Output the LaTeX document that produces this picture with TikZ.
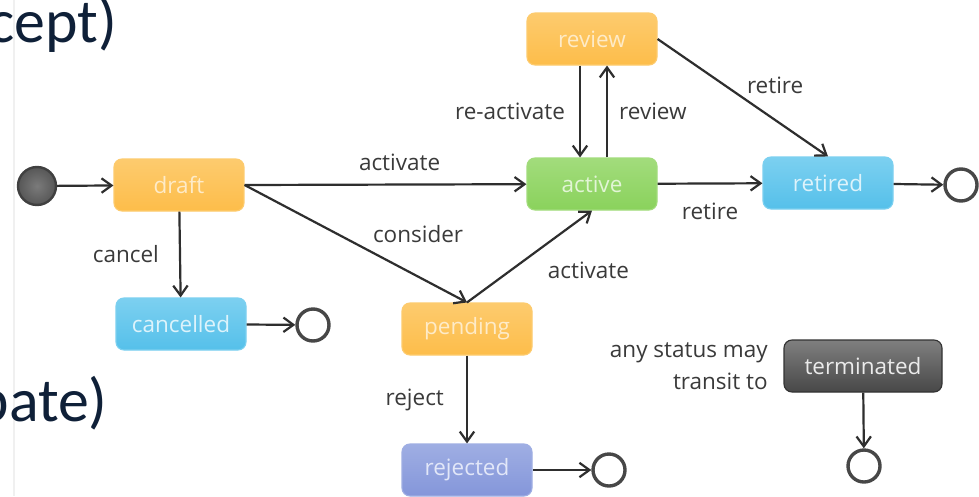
\documentclass[tikz,border=0pt]{standalone}
\usepackage{fontspec}
\setmainfont{Open Sans}
\newfontfamily\slidefont{Carlito}
\usetikzlibrary{positioning,arrows.meta}

\definecolor{slidenavy}{HTML}{0F2038}
\definecolor{labelgray}{HTML}{3A3A3A}
\definecolor{linegray}{HTML}{2E2E2E}
\definecolor{orangefill}{HTML}{FDBD4A}
\definecolor{orangetop}{HTML}{FDCB6E}
\definecolor{orangetext}{HTML}{FEEBC8}
\definecolor{greenfill}{HTML}{8AD25C}
\definecolor{greentop}{HTML}{A2DC7C}
\definecolor{greentext}{HTML}{E2F5D6}
\definecolor{bluefill}{HTML}{55C0EA}
\definecolor{bluetop}{HTML}{7CD0F0}
\definecolor{bluetext}{HTML}{DDF3FB}
\definecolor{purplefill}{HTML}{8496DA}
\definecolor{purpletop}{HTML}{9FAEE3}
\definecolor{purpletext}{HTML}{E2E7F8}

\begin{document}
\begin{tikzpicture}[x=0.25mm,y=-0.25mm,
  status/.style={rectangle,rounded corners=2mm,minimum width=32.5mm,minimum height=13mm,
    inner sep=0pt,line width=0.8pt,font=\fontsize{16}{19}\selectfont},
  orangestatus/.style={status,top color=orangetop,bottom color=orangefill,draw=orangetop,text=orangetext},
  greenstatus/.style={status,top color=greentop,bottom color=greenfill,draw=greentop,text=greentext},
  bluestatus/.style={status,top color=bluetop,bottom color=bluefill,draw=bluetop,text=bluetext},
  purplestatus/.style={status,top color=purpletop,bottom color=purplefill,draw=purpletop,text=purpletext},
  termstatus/.style={status,minimum width=39.5mm,top color=black!50,bottom color=black!72,draw=black!80,text=white!92!black},
  start/.style={circle,minimum size=9.5mm,inner sep=0pt,inner color=black!52,outer color=black!66,draw=black!75,line width=0.6mm},
  final/.style={circle,minimum size=8mm,inner sep=0pt,fill=white,draw=black!72,line width=0.85mm},
  trans/.style={draw=linegray,line width=0.55mm,-{Straight Barb[length=2.5mm,width=3.6mm]}},
  lbl/.style={inner sep=0pt,text=labelgray,font=\fontsize{16}{19}\selectfont},
  big/.style={inner sep=0pt,anchor=base east,text=slidenavy,font=\slidefont\fontsize{44}{44}\selectfont}]

\clip (0,0) rectangle (979,496);
\fill[white] (0,0) rectangle (979,496);
\draw[black!6,line width=0.5mm] (14,0) -- (14,496);

% text of the slide underneath
\node[big] (slideone) at (117,42) {cept)};
\node[big] (slidetwo) at (108,421) {pate)};

% states
\node[start] (init) at (37,186) {};
\node[orangestatus] (draft) at (179,185) {draft};
\node[bluestatus] (cancelled) at (181,324) {cancelled};
\node[final] (endcancel) at (313,325) {};
\node[orangestatus] (review) at (592,39) {review};
\node[greenstatus] (active) at (592,184) {active};
\node[bluestatus] (retired) at (828,183) {retired};
\node[final] (endretire) at (961,185) {};
\node[orangestatus] (pending) at (467,329) {pending};
\node[purplestatus] (rejected) at (467,470) {rejected};
\node[final] (endreject) at (609,470) {};
\node[termstatus] (terminated) at (863,366) {terminated};
\node[final] (endterm) at (864,466) {};
\node[lbl,align=right,anchor=east,font=\fontsize{16}{22.8}\selectfont] (anynote) at (768,366) {any status may\\transit to};

% transitions
\draw[trans] (init) -- (draft);
\draw[trans] (draft) -- node[lbl,left=5mm] {cancel} (cancelled);
\draw[trans] (cancelled) -- (endcancel);
\draw[trans] (draft.east) -- node[lbl,pos=.55,yshift=5.5mm] {activate} (active);
\draw[trans] (draft.east) -- node[lbl,pos=.78,yshift=10.75mm] {consider} (pending.north);
\draw[trans] (pending.north) -- node[lbl,pos=.35,right=9mm] {activate} (active.south);
\draw[trans] ([xshift=-3mm]review.south) -- node[lbl,left=3.5mm] {re-activate} ([xshift=-3mm]active.north);
\draw[trans] ([xshift=3.75mm]active.north) -- node[lbl,right=2.75mm] {review} ([xshift=3.75mm]review.south);
\draw[trans] (review.east) -- node[lbl,pos=.69,yshift=8.75mm] {retire} (retired.north);
\draw[trans] (active) -- node[lbl,yshift=-7mm] {retire} (retired);
\draw[trans] (retired) -- (endretire);
\draw[trans] (pending) -- node[lbl,left=5.5mm] {reject} (rejected);
\draw[trans] (rejected) -- (endreject);
\draw[trans] (terminated) -- (endterm);
\end{tikzpicture}
\end{document}
